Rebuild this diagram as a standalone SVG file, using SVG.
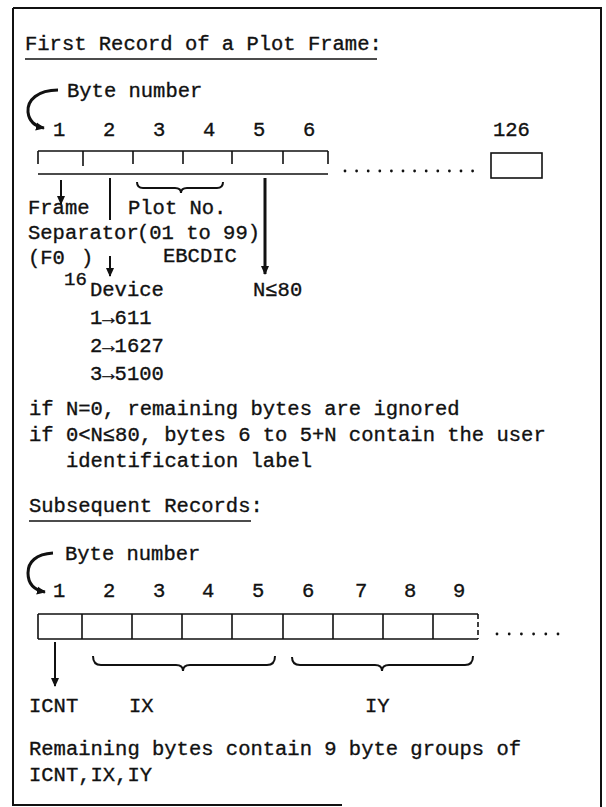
<svg xmlns="http://www.w3.org/2000/svg" width="606" height="807" viewBox="0 0 606 807">
<defs>
<style>
.t{font-family:"Liberation Mono","DejaVu Sans Mono",monospace;font-size:20.5px;fill:#111;stroke:#111;stroke-width:0.35}
.sub{font-size:19px}
.ln{stroke:#111;stroke-width:2;fill:none}
.thin{stroke:#111;stroke-width:1.6;fill:none}
.thick{stroke:#111;stroke-width:3;fill:none}
.dash{stroke:#111;stroke-width:1.6;fill:none;stroke-dasharray:5 3}
.dot{fill:#111}
</style>
<marker id="ah" viewBox="0 0 10 10" refX="9" refY="5" markerWidth="9" markerHeight="10" markerUnits="userSpaceOnUse" orient="auto"><path d="M0,0.5 L10,5 L0,9.5 z" fill="#111"/></marker>
</defs>
<rect width="606" height="807" fill="#fff"/>
<g id="frame"><path class="ln" d="M13 8 H601 V807 M13 8 V805 H342"/></g>

<g id="title-first"><text class="t" x="25" y="50">First Record of a Plot Frame:</text><line class="thin" x1="25" y1="59" x2="377" y2="59"/></g>
<g id="label-byte-number-1"><text class="t" x="67" y="97">Byte number</text></g>
<g id="digits-1">
<text class="t" x="53" y="136">1</text><text class="t" x="103" y="136">2</text><text class="t" x="153" y="136">3</text><text class="t" x="203" y="136">4</text><text class="t" x="253" y="136">5</text><text class="t" x="303" y="136">6</text><text class="t" x="493" y="136">126</text>
</g>
<g id="record1-bytes">
<path class="thin" d="M38 151 H328 M38 174 H328"/>
<path class="thin" d="M38 151 V164 M83 151 V166 M133 151 V164 M183 151 V164 M232 151 V164 M283 151 V164 M328 151 V164"/>
<g class="dot"><circle cx="345" cy="171" r="1.4"/><circle cx="356.6" cy="171" r="1.4"/><circle cx="368.2" cy="171" r="1.4"/><circle cx="379.8" cy="171" r="1.4"/><circle cx="391.4" cy="171" r="1.4"/><circle cx="403" cy="171" r="1.4"/><circle cx="414.6" cy="171" r="1.4"/><circle cx="426.2" cy="171" r="1.4"/><circle cx="437.8" cy="171" r="1.4"/><circle cx="449.4" cy="171" r="1.4"/><circle cx="461" cy="171" r="1.4"/><circle cx="472.6" cy="171" r="1.4"/></g>
<rect class="thin" x="491" y="153" width="51" height="25"/>
</g>
<g id="label-frame-separator"><text class="t" x="28" y="214">Frame</text><text class="t" x="28" y="239">Separator</text><text class="t" x="28" y="264">(F0</text><text class="t sub" x="64" y="285">16</text><text class="t" x="81" y="264">)</text></g>
<g id="label-plot-no"><text class="t" x="128" y="214">Plot No.</text><text class="t" x="137" y="239">(01 to 99)</text><text class="t" x="163" y="262">EBCDIC</text></g>
<g id="label-device"><text class="t" x="90" y="296">Device</text><text class="t" x="90" y="324">1→611</text><text class="t" x="90" y="352">2→1627</text><text class="t" x="90" y="380">3→5100</text></g>
<g id="label-n"><text class="t" x="253" y="296">N≤80</text></g>
<g id="notes-1"><text class="t" x="29" y="415">if N=0, remaining bytes are ignored</text><text class="t" x="29" y="441">if 0&lt;N≤80, bytes 6 to 5+N contain the user</text><text class="t" x="66" y="467">identification label</text></g>

<g id="title-subsequent"><text class="t" x="29" y="512">Subsequent Records:</text><line class="thin" x1="29" y1="521" x2="251" y2="521"/></g>
<g id="label-byte-number-2"><text class="t" x="65" y="560">Byte number</text></g>
<g id="digits-2">
<text class="t" x="53" y="597">1</text><text class="t" x="103" y="597">2</text><text class="t" x="153" y="597">3</text><text class="t" x="202" y="597">4</text><text class="t" x="252" y="597">5</text><text class="t" x="302" y="597">6</text><text class="t" x="355" y="597">7</text><text class="t" x="404" y="597">8</text><text class="t" x="453" y="597">9</text>
</g>
<g id="record2-bytes">
<path class="thin" d="M38 614 H478 M38 639 H478 M38 614 V639 M82 614 V639 M132 614 V639 M182 614 V639 M232 614 V639 M283 614 V639 M333 614 V639 M383 614 V639 M433 614 V639"/>
<line class="dash" x1="478" y1="614" x2="478" y2="639"/>
<g class="dot"><circle cx="497" cy="634" r="1.4"/><circle cx="509.2" cy="634" r="1.4"/><circle cx="521.4" cy="634" r="1.4"/><circle cx="533.6" cy="634" r="1.4"/><circle cx="545.8" cy="634" r="1.4"/><circle cx="558" cy="634" r="1.4"/></g>
</g>
<g id="label-icnt"><text class="t" x="29" y="712">ICNT</text></g>
<g id="label-ix"><text class="t" x="129" y="712">IX</text></g>
<g id="label-iy"><text class="t" x="365" y="712">IY</text></g>
<g id="notes-2"><text class="t" x="29" y="755">Remaining bytes contain 9 byte groups of</text><text class="t" x="29" y="781">ICNT,IX,IY</text></g>

<g id="connectors">
<path class="thick" d="M58 90 C38 90 27 100 28 112 C29 121 34 126 44 128" marker-end="url(#ah)"/>
<line class="ln" x1="61" y1="180" x2="61" y2="204" marker-end="url(#ah)"/>
<line class="ln" x1="110" y1="178" x2="110" y2="220"/>
<line class="ln" x1="110" y1="256" x2="110" y2="276" marker-end="url(#ah)"/>
<path class="ln" d="M137 182 Q137 188 143 188 L175 188 Q181 188 181 193 Q181 188 187 188 L217 188 Q223 188 223 182"/>
<line class="thick" x1="265" y1="178" x2="265" y2="274" marker-end="url(#ah)"/>
<path class="thick" d="M53 553 C36 554 28 562 28 573 C28 584 34 590 45 592" marker-end="url(#ah)"/>
<line class="ln" x1="55" y1="642" x2="55" y2="686" marker-end="url(#ah)"/>
<path class="ln" d="M93 656 Q93 665 101 665 L176 665 Q183 665 183 671 Q183 665 190 665 L267 665 Q275 665 275 656"/>
<path class="ln" d="M292 657 Q292 665 300 665 L375 665 Q382 665 382 671 Q382 665 389 665 L465 665 Q473 665 473 656"/>
</g>
</svg>
